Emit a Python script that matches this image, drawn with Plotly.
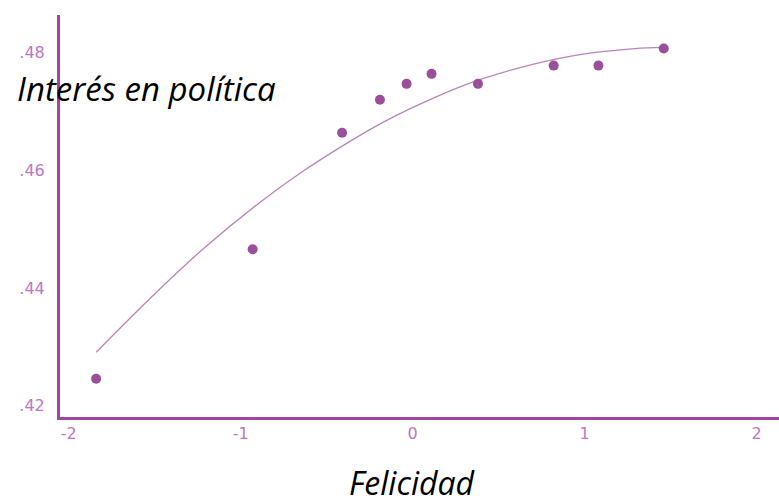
import plotly.graph_objects as go

# Data
felicidad = [-1.84, -0.93, -0.41, -0.19, -0.035, 0.11, 0.38, 0.82, 1.08, 1.46]
interes = [0.4246, 0.4466, 0.4664, 0.4720, 0.4747, 0.4764, 0.4747, 0.4778, 0.4778, 0.4807]

# Fitted curve as drawn in the reference
curva_x = [-1.84, -1.5, -1.22, -0.9, -0.64, -0.4, -0.17, 0.13, 0.39, 0.71, 1.00, 1.29, 1.46]
curva_y = [0.4291, 0.4390, 0.4466, 0.4543, 0.4598, 0.4643, 0.4682, 0.4724, 0.4754, 0.4781,
           0.4798, 0.4807, 0.4809]

x_ticks = [-2, -1, 0, 1, 2]
x_tick_text = ["-2", "-1", "0", "1", "2"]
y_ticks = [0.42, 0.44, 0.46, 0.48]
y_tick_text = [".42", ".44", ".46", ".48"]

purple = "#9a4f9a"
axis_purple = "#a3449f"
tick_purple = "#c274c2"

W, H = 779, 503
ML, MR, MT, MB = 60, 0, 15, 86

fig = go.Figure()
fig.add_trace(go.Scatter(x=curva_x, y=curva_y, mode="lines",
                         line=dict(color="#b784b7", width=1.3, shape="spline"),
                         hoverinfo="skip", showlegend=False))
fig.add_trace(go.Scatter(x=felicidad, y=interes, mode="markers",
                         marker=dict(color=purple, size=10, symbol="circle"),
                         showlegend=False))

pw, ph = W - ML - MR, H - MT - MB


def px2paper(px, py):
    return (px - ML) / pw, 1 - (py - MT) / ph


ax1, ay1 = px2paper(15, 88)
ax2, ay2 = px2paper(412, 482)

fig.update_layout(
    width=W, height=H,
    margin=dict(l=ML, r=MR, t=MT, b=MB),
    paper_bgcolor="white", plot_bgcolor="white",
    xaxis=dict(range=[-2.05, 2.13], tickvals=x_ticks, ticktext=x_tick_text,
               showgrid=False, zeroline=False, showline=True,
               linecolor=axis_purple, linewidth=3, ticks="",
               ticklabelstandoff=0,
               tickfont=dict(family="DejaVu Sans", size=16, color=tick_purple)),
    yaxis=dict(range=[0.4181, 0.4864], tickvals=y_ticks, ticktext=y_tick_text,
               showgrid=False, zeroline=False, showline=True,
               linecolor=axis_purple, linewidth=3, ticks="",
               ticklabelstandoff=9,
               tickfont=dict(family="DejaVu Sans", size=16, color=tick_purple)),
    annotations=[
        dict(text="<i>Interés en política</i>", x=ax1, y=ay1, xref="paper", yref="paper",
             showarrow=False, font=dict(family="Open Sans", size=33, color="black"),
             xanchor="left", yanchor="middle"),
        dict(text="<i>Felicidad</i>", x=ax2, y=ay2, xref="paper", yref="paper",
             showarrow=False, font=dict(family="Open Sans", size=32, color="black"),
             xanchor="center", yanchor="middle"),
    ],
)

fig.write_html("out.html", config={"displayModeBar": False},
               post_script="document.body.style.margin='0';")
